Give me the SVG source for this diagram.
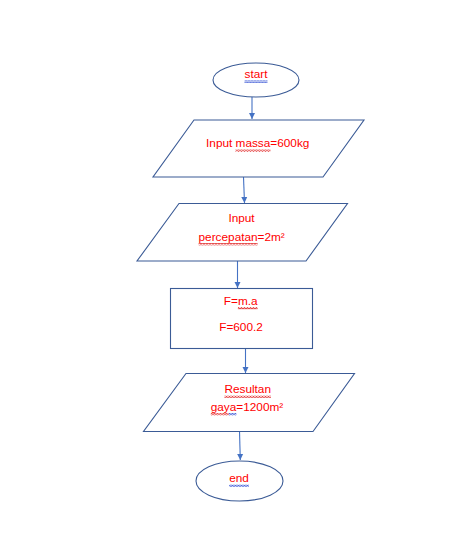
<svg xmlns="http://www.w3.org/2000/svg" width="456" height="557" viewBox="0 0 456 557">
<style>
.shape{fill:#ffffff;stroke:#3b5b96;stroke-width:1.1}
.lbl{font-family:"Liberation Sans",Arial,sans-serif;font-size:11.8px;fill:#ff0000;text-anchor:middle}
.conn{stroke:#4472c4;stroke-width:1.1;fill:none;marker-end:url(#arr)}
</style>
<defs>
<marker id="arr" viewBox="0 0 10 10" refX="10" refY="5" markerWidth="6" markerHeight="7" markerUnits="userSpaceOnUse" orient="auto">
<path d="M0,0 L10,5 L0,10 Z" fill="#4472c4"/>
</marker>
<pattern id="sqR" width="3" height="2.4" patternUnits="userSpaceOnUse">
<path d="M0,1.9 L1.5,0.5 L3,1.9" stroke="#e02020" stroke-width="0.9" fill="none"/>
</pattern>
<pattern id="sqB" width="3" height="2.4" patternUnits="userSpaceOnUse">
<path d="M0,1.9 L1.5,0.5 L3,1.9" stroke="#2040d0" stroke-width="0.9" fill="none"/>
</pattern>
</defs>
<rect width="456" height="557" fill="#ffffff"/>
<g id="connectors">
<line class="conn" x1="252" y1="97" x2="252" y2="119"/>
<line class="conn" x1="243.5" y1="177" x2="244.5" y2="203"/>
<line class="conn" x1="237.5" y1="261" x2="237.5" y2="288"/>
<line class="conn" x1="245.5" y1="349" x2="245.5" y2="373"/>
<line class="conn" x1="239.5" y1="431" x2="240.3" y2="460"/>
</g>
<g id="start">
<ellipse class="shape" cx="256" cy="80" rx="43" ry="17"/>
<text class="lbl" x="256" y="78">start</text>
<rect x="244.5" y="80.5" width="23" height="2.4" fill="url(#sqB)"/>
</g>
<g id="input-massa">
<polygon class="shape" points="194,120 364,120 323,177 153,177"/>
<text class="lbl" x="257.7" y="147">Input massa=600kg</text>
<rect x="235.5" y="149.5" width="35" height="2.4" fill="url(#sqR)"/>
</g>
<g id="input-percepatan">
<polygon class="shape" points="179,203.5 347.5,203.5 306,261 137,261"/>
<text class="lbl" x="241.5" y="222">Input</text>
<text class="lbl" x="241.7" y="240.5">percepatan=2m²</text>
<rect x="198.6" y="243" width="59" height="2.4" fill="url(#sqR)"/>
</g>
<g id="proses">
<rect class="shape" x="170.5" y="288.5" width="142" height="60"/>
<text class="lbl" x="240.7" y="304.5">F=m.a</text>
<rect x="237.9" y="307" width="19.7" height="2.4" fill="url(#sqR)"/>
<text class="lbl" x="241" y="331">F=600.2</text>
</g>
<g id="resultan">
<polygon class="shape" points="186,373.5 354.5,373.5 313,431.5 143.5,431.5"/>
<text class="lbl" x="247.7" y="393">Resultan</text>
<rect x="224.4" y="395.5" width="46.6" height="2.4" fill="url(#sqR)"/>
<text class="lbl" x="247" y="410.5">gaya=1200m²</text>
<rect x="210.8" y="413" width="18" height="2.4" fill="url(#sqR)"/>
<rect x="228.8" y="413" width="7.6" height="2.4" fill="url(#sqB)"/>
</g>
<g id="end">
<ellipse class="shape" cx="239.5" cy="481" rx="43.5" ry="20"/>
<text class="lbl" x="239" y="482">end</text>
<rect x="229.2" y="484.5" width="19.7" height="2.4" fill="url(#sqB)"/>
</g>
</svg>
